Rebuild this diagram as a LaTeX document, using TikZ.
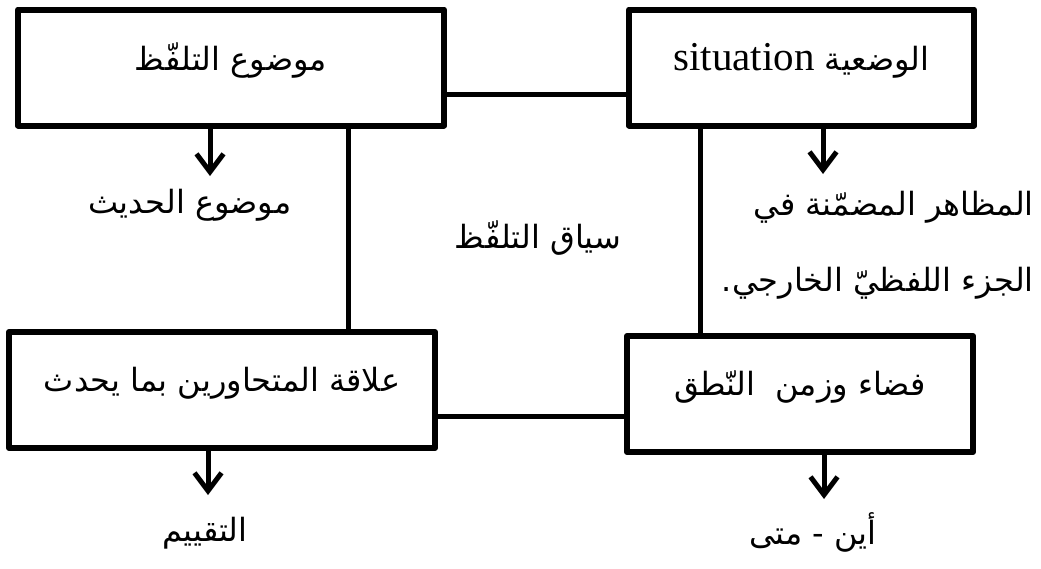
\documentclass[tikz,border=0pt]{standalone}
\usepackage{fontspec}
\usetikzlibrary{arrows.meta,calc}
\TeXXeTstate=1
\setmainfont{Liberation Serif}
\newfontfamily\arabicfont[Script=Arabic]{DejaVu Sans}
\newcommand\arsize{\fontsize{32}{76}\selectfont}
% raise a line of text inside its box without changing the box size
\newcommand\lift[1]{\raisebox{7pt}[\height][\depth]{#1}}

\begin{document}
\begin{tikzpicture}[x=1pt,y=-1pt,
  box/.style={draw, line width=6pt, line join=round, inner sep=0pt,
    minimum height=116pt, font=\arabicfont\arsize},
  lbl/.style={inner sep=0pt, font=\arabicfont\arsize},
  conn/.style={line width=5pt},
  arr/.style={line width=5pt, -{Straight Barb[length=18pt,width=27pt,line width=5pt]}}]
\useasboundingbox (0,0) rectangle (1041,568);

% the four boxes
\node[box, minimum width=426pt] (TL) at (231,67.5) {\lift{\beginR موضوع التلفّظ\endR}};
\node[box, minimum width=345pt] (TR) at (801.5,67.5) {\lift{\beginR الوضعية {\rmfamily\fontsize{41}{48}\selectfont\beginL situation\endL}\endR}};
\node[box, minimum width=426pt] (BL) at (222,390) {\lift{\beginR علاقة المتحاورين بما يحدث\endR}};
\node[box, minimum width=346pt] (BR) at (800,394) {\lift{\beginR فضاء وزمن\ \ النّطق\endR}};

% free labels
\node[lbl] (subj) at (190,205) {\beginR موضوع الحديث\endR};
\node[lbl] (ctx) at (538,238) {\beginR سياق التلفّظ\endR};
\node[lbl, align=right, anchor=east] (asp) at (1034,245)
  {\beginR المظاهر المضمّنة في\endR\\ \beginR الجزء اللفظيّ الخارجي.\endR};
\node[lbl] (eval) at (205,533) {\beginR التقييم\endR};
\node[lbl] (where) at (813,532) {\beginR أين - متى\endR};

% joints on the box borders
\coordinate (j1) at ($(TL.north east)!0.72!(TL.south east)$);
\coordinate (j2) at ($(TL.south west)!0.772!(TL.south east)$);
\coordinate (j3) at ($(TR.south west)!0.212!(TR.south east)$);
\coordinate (j4) at ($(BL.north east)!0.716!(BL.south east)$);

% frame connecting the boxes
\draw[conn] (j1) -- (j1 -| TR.west);
\draw[conn] (j2) -- (j2 |- BL.north);
\draw[conn] (j3) -- (j3 |- BR.north);
\draw[conn] (j4) -- (j4 -| BR.west);

% arrow ends above the labels
\coordinate (aTL) at (210,176);
\coordinate (aTR) at (823,174);
\coordinate (aBL) at (208,495);
\coordinate (aBR) at (824,499);

\draw[arr] (TL.south -| aTL) -- (aTL);
\draw[arr] (TR.south -| aTR) -- (aTR);
\draw[arr] (BL.south -| aBL) -- (aBL);
\draw[arr] (BR.south -| aBR) -- (aBR);
\end{tikzpicture}
\end{document}
